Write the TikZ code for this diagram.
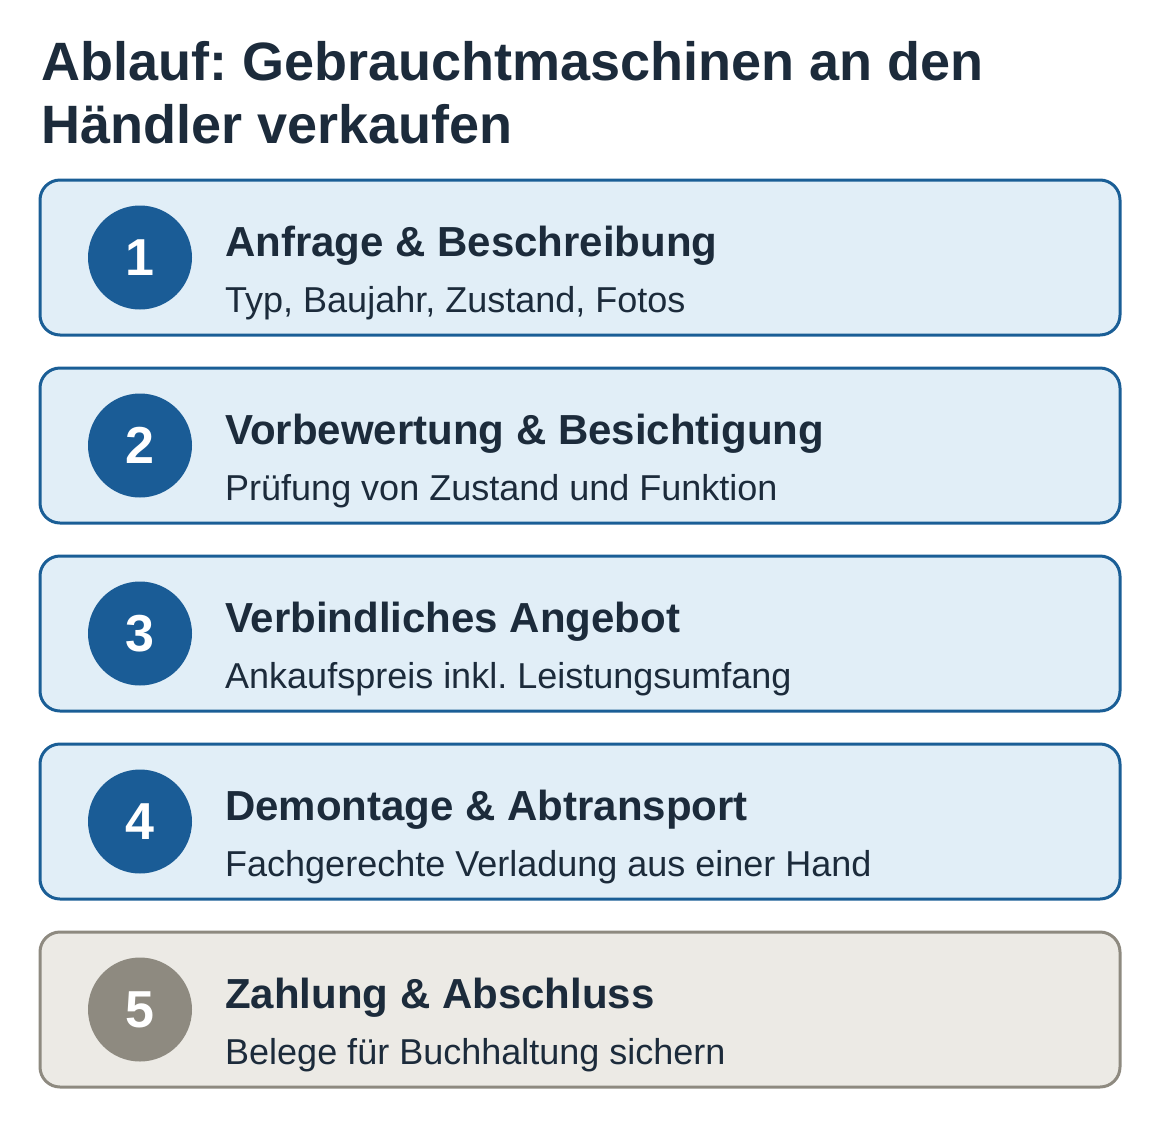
\documentclass[tikz,border=0pt]{standalone}
\usepackage{fontspec}
\setmainfont{Liberation Sans}
\frenchspacing
\definecolor{ink}{HTML}{1C2B3B}
\definecolor{blueline}{HTML}{1A5E96}
\definecolor{bluefill}{HTML}{E1EEF7}
\definecolor{bluedot}{HTML}{1A5C96}
\definecolor{grayline}{HTML}{8E8A80}
\definecolor{grayfill}{HTML}{ECEAE5}
\definecolor{graydot}{HTML}{8E8A80}
\tikzset{
  stepbox/.style={draw=blueline, fill=bluefill, line width=3pt, rounded corners=20pt,
    minimum width=1080pt, minimum height=155pt, inner sep=0pt},
  lastbox/.style={stepbox, draw=grayline, fill=grayfill},
  numdot/.style={circle, fill=bluedot, minimum size=104pt, inner sep=0pt, text=white,
    font=\fontsize{52}{52}\selectfont\bfseries},
  lastdot/.style={numdot, fill=graydot},
  headtxt/.style={anchor=base west, inner sep=0pt, text=ink, font=\fontsize{42}{42}\selectfont\bfseries},
  subtxt/.style={anchor=base west, inner sep=0pt, text=ink, font=\fontsize{36}{36}\selectfont},
  ttltxt/.style={anchor=base west, inner sep=0pt, text=ink, font=\fontsize{54}{54}\selectfont\bfseries},
}
\begin{document}
\begin{tikzpicture}[x=1pt,y=-1pt]
\useasboundingbox (0,0) rectangle (1160,1128);
\node[ttltxt] (title1) at (41,80) {Ablauf: Gebrauchtmaschinen an den};
\node[ttltxt] (title2) at (41,143) {Händler verkaufen};

% step 1
\node[stepbox] (box1) at (580,257.5) {};
\node[numdot] (num1) at (140,257.5) {1};
\node[headtxt] (head1) at (225,256) {Anfrage \& Beschreibung};
\node[subtxt] (sub1) at (225,312) {Typ, Baujahr, Zustand, Fotos};

% step 2
\node[stepbox] (box2) at (580,445.5) {};
\node[numdot] (num2) at (140,445.5) {2};
\node[headtxt] (head2) at (225,444) {Vorbewertung \& Besichtigung};
\node[subtxt] (sub2) at (225,500) {Prüfung von Zustand und Funktion};

% step 3
\node[stepbox] (box3) at (580,633.5) {};
\node[numdot] (num3) at (140,633.5) {3};
\node[headtxt] (head3) at (225,632) {Verbindliches Angebot};
\node[subtxt] (sub3) at (225,688) {Ankaufspreis inkl. Leistungsumfang};

% step 4
\node[stepbox] (box4) at (580,821.5) {};
\node[numdot] (num4) at (140,821.5) {4};
\node[headtxt] (head4) at (225,820) {Demontage \& Abtransport};
\node[subtxt] (sub4) at (225,876) {Fachgerechte Verladung aus einer Hand};

% step 5
\node[lastbox] (box5) at (580,1009.5) {};
\node[lastdot] (num5) at (140,1009.5) {5};
\node[headtxt] (head5) at (225,1008) {Zahlung \& Abschluss};
\node[subtxt] (sub5) at (225,1064) {Belege für Buchhaltung sichern};
\end{tikzpicture}
\end{document}
